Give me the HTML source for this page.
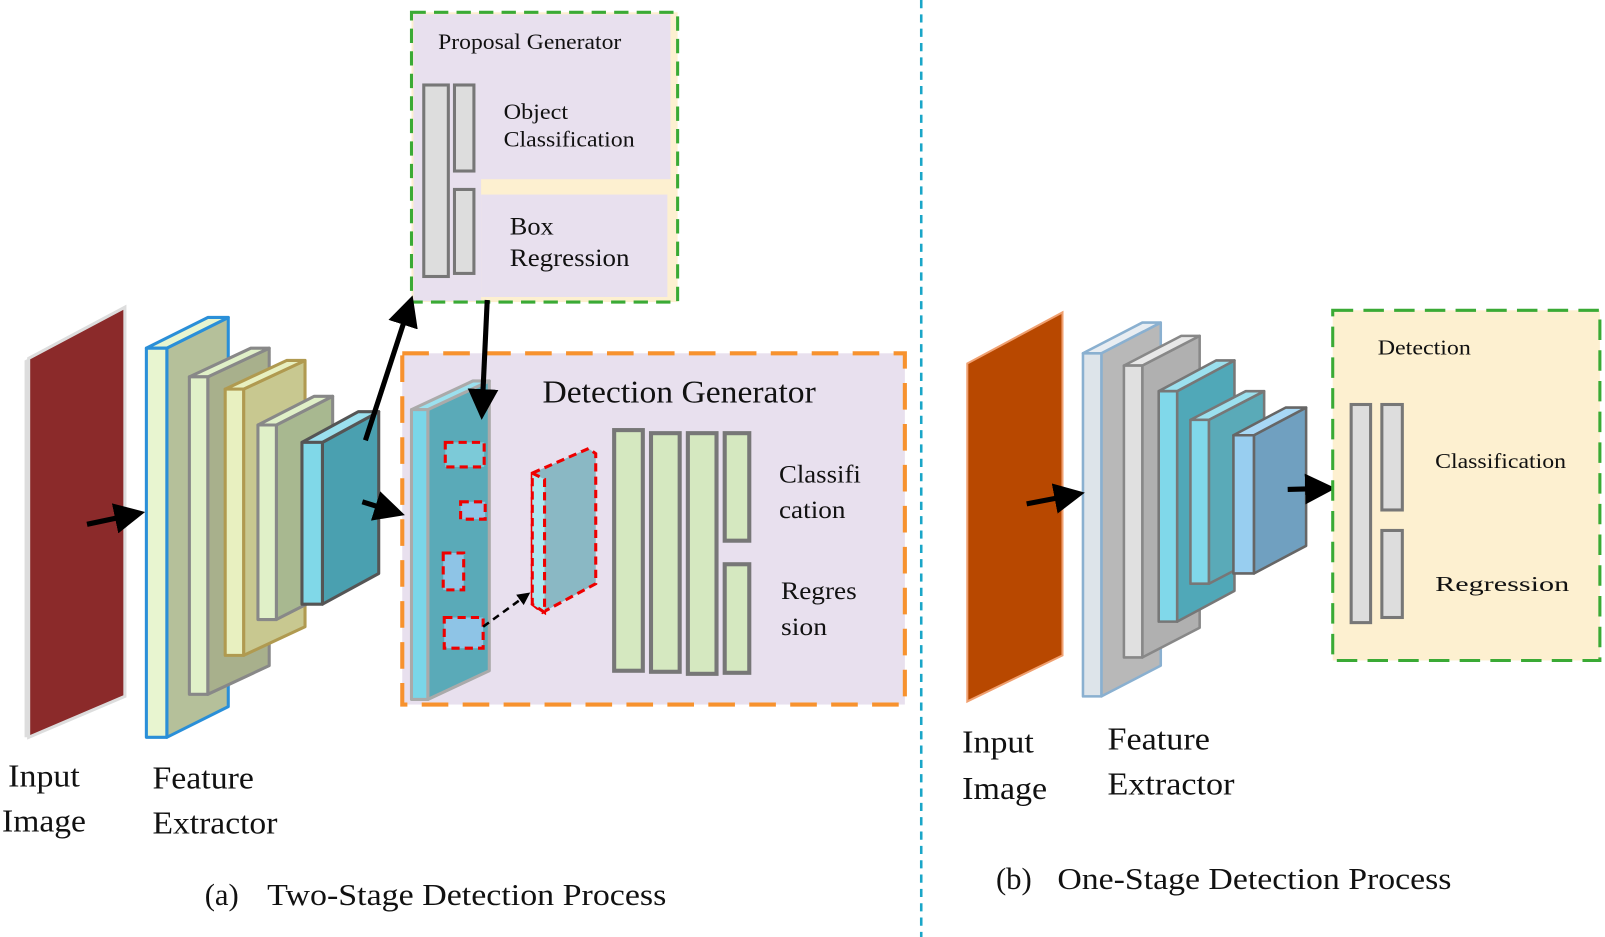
<!DOCTYPE html>
<html><head><meta charset="utf-8"><style>
html,body{margin:0;padding:0;background:#fff;}
svg{display:block;}
text{font-family:"Liberation Serif",serif;fill:#111;}
</style></head><body>
<svg width="1605" height="937" viewBox="0 0 1568 915" preserveAspectRatio="none" xmlns="http://www.w3.org/2000/svg">
<defs>
<marker id="ah" markerWidth="6" markerHeight="6" refX="4" refY="3" orient="auto" markerUnits="strokeWidth"><path d="M0,0 L6,3 L0,6 z" fill="#000"/></marker>
<marker id="ah2" markerWidth="5" markerHeight="5" refX="4" refY="2.5" orient="auto" markerUnits="strokeWidth"><path d="M0,0 L5,2.5 L0,5 z" fill="#000"/></marker>
</defs>

<polygon points="24,352 28,350 28,720 24,720" fill="#ddd"/>
<polygon points="28,350 122,300 122,680 28,720" fill="#8b2a2a" stroke="#ddd" stroke-width="3"/>

<g stroke-width="3" stroke-linejoin="round">
<polygon points="163,340 223,310 223,690 163,720" fill="#b5c09a" stroke="#2a8fd8"/>
<polygon points="143,340 203,310 223,310 163,340" fill="#e8f5d0" stroke="#2a8fd8"/>
<rect x="143" y="340" width="20" height="380" fill="#e8f5d0" stroke="#2a8fd8"/>

<polygon points="203,368 263,340 263,650 203,678" fill="#a8b08c" stroke="#888"/>
<polygon points="185,368 245,340 263,340 203,368" fill="#e0f0c8" stroke="#888"/>
<rect x="185" y="368" width="18" height="310" fill="#e0f0c8" stroke="#888"/>

<polygon points="238,380 298,352 298,612 238,640" fill="#c8c890" stroke="#b09a50"/>
<polygon points="220,380 280,352 298,352 238,380" fill="#e8f0c0" stroke="#b09a50"/>
<rect x="220" y="380" width="18" height="260" fill="#e8f0c0" stroke="#b09a50"/>

<polygon points="270,415 325,387 325,577 270,605" fill="#a8b890" stroke="#888"/>
<polygon points="252,415 307,387 325,387 270,415" fill="#e0f0c8" stroke="#888"/>
<rect x="252" y="415" width="18" height="190" fill="#e0f0c8" stroke="#888"/>

<polygon points="315,432 370,402 370,560 315,590" fill="#4aa0b0" stroke="#555"/>
<polygon points="295,432 350,402 370,402 315,432" fill="#9be0ee" stroke="#555"/>
<rect x="295" y="432" width="20" height="158" fill="#80d8e8" stroke="#555"/>
</g>

<rect x="402" y="12" width="260" height="283" fill="#fdf0d0"/>
<rect x="404" y="14" width="251" height="161" fill="#e8e0ee"/>
<rect x="404" y="14" width="66" height="280" fill="#e8e0ee"/>
<rect x="470" y="190" width="182" height="100" fill="#e8e0ee"/>
<rect x="402" y="12" width="260" height="283" fill="none" stroke="#3aaa35" stroke-width="3" stroke-dasharray="14,8"/>
<rect x="414" y="83" width="24" height="187" fill="#ddd" stroke="#777" stroke-width="3"/>
<rect x="444" y="83" width="19" height="84" fill="#ddd" stroke="#777" stroke-width="3"/>
<rect x="444" y="185" width="19" height="82" fill="#ddd" stroke="#777" stroke-width="3"/>
<text x="428" y="48" font-size="21.5" textLength="179" lengthAdjust="spacingAndGlyphs">Proposal Generator</text>
<text x="492" y="116" font-size="22" textLength="63" lengthAdjust="spacingAndGlyphs">Object</text>
<text x="492" y="143" font-size="22" textLength="128" lengthAdjust="spacingAndGlyphs">Classification</text>
<text x="498" y="229" font-size="25" textLength="43" lengthAdjust="spacingAndGlyphs">Box</text>
<text x="498" y="260" font-size="25" textLength="117" lengthAdjust="spacingAndGlyphs">Regression</text>

<rect x="393" y="345" width="491" height="343" fill="#e8e0ee" stroke="#f7922e" stroke-width="4" stroke-dasharray="26,14"/>
<g stroke="#aaa" stroke-width="3" stroke-linejoin="round">
<polygon points="418,400 478,372 478,655 418,683" fill="#5aaab8"/>
<polygon points="402,400 462,372 478,372 418,400" fill="#9be0ee"/>
<rect x="402" y="400" width="16" height="283" fill="#7ad6e8"/>
</g>
<g stroke="#e00" stroke-width="3" stroke-dasharray="8,5">
<rect x="435" y="432" width="38" height="24" fill="#7ccad8"/>
<rect x="450" y="490" width="24" height="17" fill="#8ec4e6"/>
<rect x="433" y="540" width="20" height="36" fill="#8ec4e6"/>
<rect x="434" y="603" width="38" height="30" fill="#8ec4e6"/>
<polygon points="520,462 575,438 582,443 582,570 530,598 520,590" fill="#8ab8c4"/>
<polygon points="520,462 532,468 532,598 520,590" fill="#aee8f0"/>
</g>
<line x1="472" y1="612" x2="516" y2="580" stroke="#000" stroke-width="2.5" stroke-dasharray="7,5" marker-end="url(#ah2)"/>
<g fill="#d5e8c0" stroke="#777" stroke-width="4">
<rect x="600" y="420" width="28" height="235"/>
<rect x="636" y="423" width="28" height="233"/>
<rect x="672" y="423" width="28" height="235"/>
<rect x="708" y="423" width="24" height="105"/>
<rect x="708" y="551" width="24" height="106"/>
</g>
<text x="530" y="393" font-size="30.5" textLength="267" lengthAdjust="spacingAndGlyphs">Detection Generator</text>
<text x="761" y="471" font-size="25" textLength="80" lengthAdjust="spacingAndGlyphs">Classifi</text>
<text x="761" y="506" font-size="25" textLength="65" lengthAdjust="spacingAndGlyphs">cation</text>
<text x="763" y="585" font-size="25" textLength="74" lengthAdjust="spacingAndGlyphs">Regres</text>
<text x="763" y="620" font-size="25" textLength="45" lengthAdjust="spacingAndGlyphs">sion</text>

<g stroke="#000" stroke-width="5" fill="none">
<line x1="85" y1="512" x2="132" y2="502" marker-end="url(#ah)"/>
<line x1="357" y1="430" x2="400" y2="298" marker-end="url(#ah)"/>
<line x1="476" y1="293" x2="471" y2="400" marker-end="url(#ah)"/>
<line x1="354" y1="490" x2="386" y2="500" marker-end="url(#ah)"/>
</g>

<text x="8" y="768" font-size="31" textLength="70" lengthAdjust="spacingAndGlyphs">Input</text>
<text x="2" y="812" font-size="31" textLength="82" lengthAdjust="spacingAndGlyphs">Image</text>
<text x="149" y="770" font-size="31" textLength="99" lengthAdjust="spacingAndGlyphs">Feature</text>
<text x="149" y="814" font-size="31" textLength="122" lengthAdjust="spacingAndGlyphs">Extractor</text>
<text x="200" y="884" font-size="30">(a)</text>
<text x="261" y="884" font-size="30" textLength="390" lengthAdjust="spacingAndGlyphs">Two-Stage Detection Process</text>

<line x1="900" y1="0" x2="900" y2="915" stroke="#1aa6c8" stroke-width="2.5" stroke-dasharray="8,6"/>

<polygon points="945,355 1038,305 1038,640 945,685" fill="#b84800" stroke="#f0a070" stroke-width="2"/>
<g stroke-width="2.5" stroke-linejoin="round">
<polygon points="1076,345 1134,315 1134,650 1076,680" fill="#b8b8b8" stroke="#8ab0d0"/>
<polygon points="1058,345 1116,315 1134,315 1076,345" fill="#e8edf2" stroke="#8ab0d0"/>
<rect x="1058" y="345" width="18" height="335" fill="#dde4ea" stroke="#8ab0d0"/>

<polygon points="1116,357 1172,328 1172,613 1116,642" fill="#b0b0b0" stroke="#888"/>
<polygon points="1098,357 1154,328 1172,328 1116,357" fill="#e8e8e8" stroke="#888"/>
<rect x="1098" y="357" width="18" height="285" fill="#e0e0e0" stroke="#888"/>

<polygon points="1150,382 1206,352 1206,577 1150,607" fill="#50a8b8" stroke="#777"/>
<polygon points="1132,382 1188,352 1206,352 1150,382" fill="#9be0ee" stroke="#777"/>
<rect x="1132" y="382" width="18" height="225" fill="#80d8ea" stroke="#777"/>

<polygon points="1181,410 1235,382 1235,542 1181,570" fill="#5aaab8" stroke="#777"/>
<polygon points="1163,410 1217,382 1235,382 1181,410" fill="#9be0ee" stroke="#777"/>
<rect x="1163" y="410" width="18" height="160" fill="#80d8ea" stroke="#777"/>

<polygon points="1225,425 1276,398 1276,533 1225,560" fill="#70a0c0" stroke="#666"/>
<polygon points="1205,425 1256,398 1276,398 1225,425" fill="#a8d8f5" stroke="#666"/>
<rect x="1205" y="425" width="20" height="135" fill="#98cef0" stroke="#666"/>
</g>
<g stroke="#000" stroke-width="5" fill="none">
<line x1="1003" y1="492" x2="1050" y2="483" marker-end="url(#ah)"/>
<line x1="1258" y1="478" x2="1295" y2="477" marker-end="url(#ah)"/>
</g>
<rect x="1302" y="303" width="261" height="342" fill="#fdf0d0" stroke="#3aaa35" stroke-width="3" stroke-dasharray="20,10"/>
<rect x="1320" y="395" width="19" height="213" fill="#ddd" stroke="#777" stroke-width="3"/>
<rect x="1350" y="395" width="20" height="103" fill="#ddd" stroke="#777" stroke-width="3"/>
<rect x="1350" y="518" width="20" height="85" fill="#ddd" stroke="#777" stroke-width="3"/>
<text x="1346" y="346" font-size="21" textLength="91" lengthAdjust="spacingAndGlyphs">Detection</text>
<text x="1402" y="457" font-size="21" textLength="128" lengthAdjust="spacingAndGlyphs">Classification</text>
<text x="1402" y="577" font-size="21" textLength="131" lengthAdjust="spacingAndGlyphs">Regression</text>

<text x="940" y="735" font-size="31" textLength="70" lengthAdjust="spacingAndGlyphs">Input</text>
<text x="940" y="780" font-size="31" textLength="83" lengthAdjust="spacingAndGlyphs">Image</text>
<text x="1082" y="732" font-size="31" textLength="100" lengthAdjust="spacingAndGlyphs">Feature</text>
<text x="1082" y="776" font-size="31" textLength="124" lengthAdjust="spacingAndGlyphs">Extractor</text>
<text x="973" y="868" font-size="30">(b)</text>
<text x="1033" y="868" font-size="30" textLength="385" lengthAdjust="spacingAndGlyphs">One-Stage Detection Process</text>
</svg>
</body></html>
